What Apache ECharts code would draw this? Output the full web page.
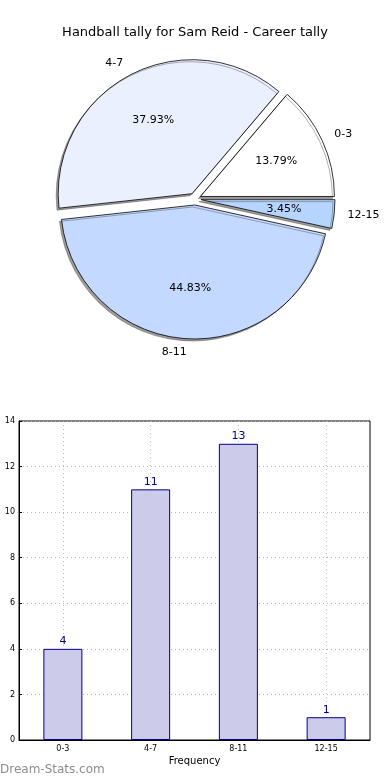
<!DOCTYPE html>
<html>
<head>
<meta charset="utf-8">
<script src="https://cdn.jsdelivr.net/npm/echarts@6/dist/echarts.min.js"></script>
<style>
html,body{margin:0;padding:0;background:#fff;}
#chart{width:390px;height:780px;}
</style>
</head>
<body>
<div id="chart"></div>
<script>
var categories = ['0-3', '4-7', '8-11', '12-15'];
var tallies = [4, 11, 13, 1];
var pieColors = ['#ffffff', '#eaf0fd', '#c4d9ff', '#b5d5ff'];
var yTicks = [0, 2, 4, 6, 8, 10, 12, 14];

var FONT = 'DejaVu Sans';
var CX = 195, CY = 199, R = 134, EXPLODE = 6;

function pieData(withStyle) {
  return categories.map(function (c, i) {
    var d = { name: c, value: tallies[i], selected: true };
    if (withStyle) d.itemStyle = { color: pieColors[i] };
    return d;
  });
}

var chart = echarts.init(document.getElementById('chart'), null, { renderer: 'canvas' });
chart.setOption({
  animation: false,
  backgroundColor: '#ffffff',
  textStyle: { fontFamily: FONT },
  title: {
    text: 'Handball tally for Sam Reid - Career tally',
    left: 'center',
    top: 21,
    textStyle: { fontFamily: FONT, fontSize: 13, fontWeight: 'normal', color: '#000' }
  },
  graphic: [{
    type: 'text',
    left: 0,
    top: 764,
    style: { text: 'Dream-Stats.com', fontFamily: FONT, fontSize: 12, fontWeight: 'normal', fill: '#8c8c8c' }
  }],
  grid: { left: 19, right: 20, top: 421, bottom: 40, outerBoundsMode: 'none', containLabel: false, show: true, borderColor: '#000', borderWidth: 1 },
  xAxis: [{
    type: 'category',
    data: categories,
    gridIndex: 0,
    position: 'bottom',
    name: 'Frequency',
    nameLocation: 'middle',
    nameGap: 16,
    nameTextStyle: { fontFamily: FONT, fontSize: 10, color: '#000' },
    axisLine: { show: true, lineStyle: { color: '#000' } },
    axisTick: { show: false },
    axisLabel: { fontFamily: FONT, fontSize: 8, color: '#000', margin: 5 },
    splitLine: { show: false }
  }, {
    type: 'value',
    gridIndex: 0,
    position: 'top',
    min: 0, max: 8, interval: 1,
    axisLine: { show: false },
    axisTick: { show: false },
    axisLabel: { show: false },
    splitLine: { show: true, lineStyle: { color: ['rgba(0,0,0,0)', '#b8b8b8'], type: [1, 3], width: 1 } }
  }],
  yAxis: [{
    type: 'value',
    min: 0, max: 14, interval: 2,
    name: 'Handball Tally',
    nameLocation: 'middle',
    nameGap: 22,
    nameTextStyle: { fontFamily: FONT, fontSize: 10, color: '#000' },
    axisLine: { show: true, lineStyle: { color: '#000' } },
    axisTick: { show: true, inside: true, length: 3, lineStyle: { color: '#000' } },
    axisLabel: { fontFamily: FONT, fontSize: 8, color: '#000', margin: 4,
      formatter: function (v) { return yTicks.indexOf(v) >= 0 ? String(v) : ''; } },
    splitLine: { show: true, lineStyle: { color: '#b8b8b8', type: [1, 3], width: 1 } }
  }],
  series: [
    {
      type: 'pie',
      center: [CX, CY],
      radius: [0, R],
      startAngle: 0,
      clockwise: false,
      selectedMode: 'multiple',
      selectedOffset: EXPLODE,
      avoidLabelOverlap: false,
      silent: true,
      z: 2,
      label: { show: false },
      labelLine: { show: false },
      itemStyle: {
        borderColor: '#000', borderWidth: 0.8,
        shadowColor: 'rgba(60,60,60,0.5)', shadowBlur: 0, shadowOffsetX: -2, shadowOffsetY: 2
      },
      select: { itemStyle: { borderColor: '#000', borderWidth: 0.8 } },
      emphasis: { disabled: true },
      data: pieData(true)
    },
    {
      type: 'pie',
      center: [CX, CY],
      radius: [0, R * 1.2],
      startAngle: 0,
      clockwise: false,
      selectedMode: 'multiple',
      selectedOffset: EXPLODE,
      avoidLabelOverlap: false,
      silent: true,
      z: 3,
      itemStyle: { color: 'rgba(0,0,0,0)', borderWidth: 0 },
      select: { itemStyle: { color: 'rgba(0,0,0,0)', borderWidth: 0 } },
      emphasis: { disabled: true },
      label: { show: true, position: 'inside', formatter: '{d}%', fontFamily: FONT, fontSize: 11, color: '#000' },
      labelLine: { show: false },
      data: pieData(false)
    },
    {
      type: 'pie',
      center: [CX, CY],
      radius: [0, R],
      startAngle: 0,
      clockwise: false,
      selectedMode: 'multiple',
      selectedOffset: EXPLODE,
      avoidLabelOverlap: false,
      silent: true,
      z: 3,
      itemStyle: { color: 'rgba(0,0,0,0)', borderWidth: 0 },
      select: { itemStyle: { color: 'rgba(0,0,0,0)', borderWidth: 0 } },
      emphasis: { disabled: true },
      label: { show: true, position: 'outside', formatter: '{b}', fontFamily: FONT, fontSize: 11, color: '#000', distanceToLabelLine: 0 },
      labelLine: { show: false, length: R * 0.1, length2: 0 },
      data: pieData(false)
    },
    {
      type: 'bar',
      xAxisIndex: 0,
      yAxisIndex: 0,
      data: tallies,
      barWidth: 39,
      itemStyle: { color: '#ccccea', borderColor: '#00008b', borderWidth: 1 },
      label: { show: true, position: 'top', distance: 2, fontFamily: FONT, fontSize: 11, color: '#00008b' },
      emphasis: { disabled: true }
    }
  ]
});
</script>
</body>
</html>
